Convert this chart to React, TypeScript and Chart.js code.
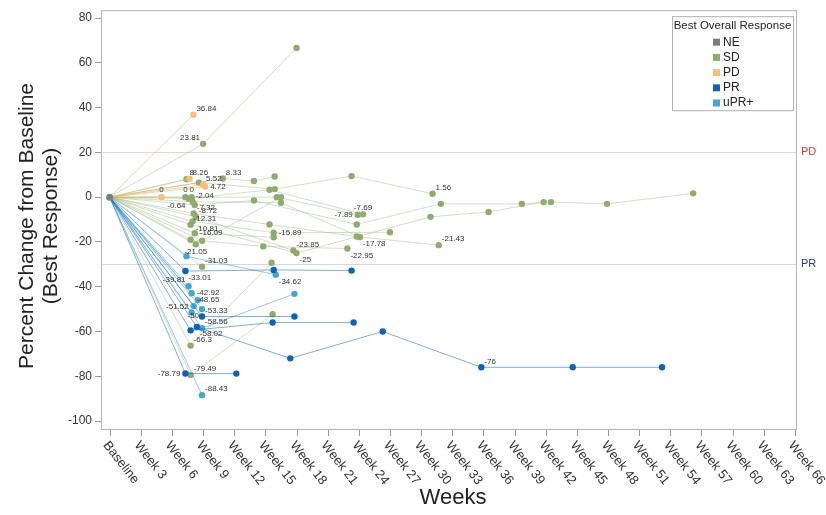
import { useEffect, useRef } from 'react';
import { Chart, registerables } from 'chart.js';

Chart.register(...registerables);

// ---------------- data ----------------
const categories = ['NE', 'SD', 'PD', 'PR', 'uPR+'];

const xTickWeeks = [0, 3, 6, 9, 12, 15, 18, 21, 24, 27, 30, 33, 36, 39, 42, 45, 48, 51, 54, 57, 60, 63, 66];
const xTickLabels = ['Baseline', 'Week 3', 'Week 6', 'Week 9', 'Week 12', 'Week 15', 'Week 18', 'Week 21', 'Week 24',
  'Week 27', 'Week 30', 'Week 33', 'Week 36', 'Week 39', 'Week 42', 'Week 45', 'Week 48', 'Week 51', 'Week 54',
  'Week 57', 'Week 60', 'Week 63', 'Week 66'];
const yTickValues = [80, 60, 40, 20, 0, -20, -40, -60, -80, -100];

const pdThreshold = 20;
const prThreshold = -30;

// Stable disease patients
const sdWeeks = [
  [9, 18],
  [7.4],
  [10.9, 13.9, 15.9],
  [8.6, 15.9, 23.3, 31.1],
  [7.3],
  [7.9, 16.1, 23.9],
  [7.6, 15.4, 24.4],
  [8.0, 16.5, 24.1, 31.7],
  [8.2, 13.9, 23.8, 31.9, 39.7, 42.5, 47.9, 56.2],
  [8.1, 15.4, 23.8],
  [8.3, 17.7],
  [7.8, 18, 30.9, 36.5, 41.8],
  [8.0, 15.8, 27],
  [8.2, 15.8],
  [7.8, 14.8, 22.9],
  [8.3],
  [8.9, 16.5],
  [8.9],
  [7.8, 15.6],
  [7.8, 15.7],
];
const sdValues = [
  [23.81, 66.67],
  [8],
  [8.33, 7.2, 9.2],
  [6.5, 3.6, 9.4, 1.56],
  [0],
  [0, 0, -7.89],
  [-0.64, 3.3, -7.69],
  [-2.04, -2.5, -17.78, -21.43],
  [-3.5, -1.5, -12.2, -3, -3, -2.2, -3, 1.7],
  [-7.32, -12.2, -17.6],
  [-8.72, -23.85],
  [-12.31, -25, -8.8, -6.6, -2.2],
  [-10.81, -15.89, -15.7],
  [-16.09, -17.9],
  [-19, -22, -22.95],
  [-21.05],
  [-19.5, 0],
  [-31.03],
  [-66.3, -29.3],
  [-79.49, -52.3],
];
const sdLabelAt = [[0], [0], [0], [3], [0], [0, 2], [0, 2], [0, 2, 3], [], [0], [0, 1], [0, 1], [0, 1], [0], [2], [0], [], [0], [0], [0]];

// Progressive disease patients
const pdWeeks = [[8.07], [7.7], [9.0], [9.2], [5.0]];
const pdValues = [[36.84], [8.26], [5.52], [4.72], [0]];
const pdLabelAt = [[0], [0], [0], [0], [0]];

// Partial response patients
const prWeeks = [
  [7.3, 15.8, 23.3],
  [8.9, 17.8],
  [7.8, 15.7, 23.5],
  [8.4, 17.4, 26.3, 35.8, 44.6, 53.2],
  [7.3, 12.2],
];
const prValues = [
  [-33.01, -32.5, -32.8],
  [-53.33, -53.3],
  [-59.5, -56, -56],
  [-58.02, -72, -60, -76, -76, -76],
  [-78.79, -78.8],
];
const prLabelAt = [[0], [0], [], [0, 3], [0]];

// Unconfirmed partial response patients
const uprWeeks = [[7.4, 16], [7.6], [7.9], [8.1], [7.9], [8.9], [8.9, 17.8], [8.9], [8.5]];
const uprValues = [[-26.4, -34.62], [-39.81], [-42.92], [-48.65], [-51.52], [-50], [-58.56, -43.2], [-88.43], [-46]];
const uprLabelAt = [[1], [0], [0], [0], [0], [0], [0], [0], []];

// ---------------- style ----------------
const pointColor: Record<string, string> = {
  NE: '#7d7d7d',
  SD: '#8fac6e',
  PD: '#f5bf7c',
  PR: '#0e63b8',
  'uPR+': '#4aa4d2',
};
const lineColor: Record<string, string> = {
  NE: 'rgba(125,125,125,0.5)',
  SD: 'rgba(150,178,120,0.42)',
  PD: 'rgba(242,185,110,0.6)',
  PR: 'rgba(25,105,185,0.55)',
  'uPR+': 'rgba(80,165,212,0.6)',
};

// label placement: anchor relative to the point
const labelPlacement: Record<string, string> = {
  '36.84': 'ar', '23.81': 'al', '8': 'ar', '8.26': 'ar', '5.52': 'ar', '4.72': 'r', '8.33': 'ar', '0': 'a',
  '-0.64': 'bl', '-2.04': 'ar', '-7.32': 'ar', '-8.72': 'ar', '-12.31': 'ar', '-10.81': 'br', '-16.09': 'r',
  '-21.05': 'b', '-31.03': 'ar', '-33.01': 'br', '-39.81': 'al', '-42.92': 'r', '-48.65': 'ar', '-51.52': 'al',
  '-53.33': 'ar', '-50': 'bl', '-58.56': 'ar', '-58.02': 'br', '-66.3': 'ar', '-78.79': 'l', '-79.49': 'ar',
  '-88.43': 'ar', '-76': 'ar', '-34.62': 'br', '-15.89': 'r', '-23.85': 'ar', '-25': 'br', '-7.89': 'l',
  '-7.69': 'a', '-17.78': 'br', '-22.95': 'br', '1.56': 'ar', '-21.43': 'ar',
};

const FONT = '"Liberation Sans", Arial, sans-serif';

function buildSeries(cat: string, weeks: number[][], values: number[][], labelAt: number[][]) {
  return weeks.map((ws, i) => ({
    label: cat,
    data: [{ x: 0, y: 0 }, ...ws.map((w, j) => ({ x: w, y: values[i][j] }))],
    labelAt: labelAt[i],
    showLine: true,
    borderColor: lineColor[cat],
    borderWidth: 1,
    pointRadius: (c: any) => (c.dataIndex === 0 ? 0 : 3.2),
    pointHoverRadius: 0,
    pointBackgroundColor: pointColor[cat],
    pointBorderWidth: 0,
  }));
}

const decorPlugin = {
  id: 'decor',
  beforeDatasetsDraw(chart: any) {
    const { ctx, chartArea: a, scales } = chart;
    ctx.save();
    ctx.lineWidth = 1;
    const y20 = Math.round(scales.y.getPixelForValue(pdThreshold)) + 0.5;
    ctx.strokeStyle = 'rgba(232,200,200,0.8)';
    ctx.beginPath(); ctx.moveTo(a.left, y20); ctx.lineTo(a.right, y20); ctx.stroke();
    const y30 = Math.round(scales.y.getPixelForValue(prThreshold)) + 0.5;
    ctx.strokeStyle = 'rgba(205,212,226,0.9)';
    ctx.beginPath(); ctx.moveTo(a.left, y30); ctx.lineTo(a.right, y30); ctx.stroke();
    ctx.restore();
  },
  afterDatasetsDraw(chart: any) {
    const { ctx } = chart;
    ctx.save();
    ctx.font = `8px ${FONT}`;
    ctx.fillStyle = '#333';
    ctx.textBaseline = 'middle';
    chart.data.datasets.forEach((ds: any, i: number) => {
      if (!ds.labelAt) return;
      const meta = chart.getDatasetMeta(i);
      ds.labelAt.forEach((j: number) => {
        const el = meta.data[j + 1];
        const text = String(ds.data[j + 1].y);
        const p = labelPlacement[text] || 'ar';
        let x = el.x, y = el.y, align: CanvasTextAlign = 'left';
        if (p === 'ar') { x += 3; y -= 6; }
        else if (p === 'r') { x += 5; }
        else if (p === 'br') { x += 3; y += 7; }
        else if (p === 'al') { x -= 3; y -= 6; align = 'right'; }
        else if (p === 'l') { x -= 5; align = 'right'; }
        else if (p === 'bl') { x -= 3; y += 7; align = 'right'; }
        else if (p === 'a') { y -= 7; align = 'center'; }
        else if (p === 'b') { y += 8; align = 'center'; }
        ctx.textAlign = align;
        ctx.fillText(text, x, y);
      });
    });
    ctx.restore();
  },
  afterDraw(chart: any) {
    const { ctx, chartArea: a, scales } = chart;
    ctx.save();
    // frame
    ctx.strokeStyle = '#b5b5b5';
    ctx.lineWidth = 1;
    ctx.strokeRect(a.left + 0.5, a.top + 0.5, a.right - a.left - 1, a.bottom - a.top - 1);
    // x ticks
    ctx.strokeStyle = '#999';
    xTickWeeks.forEach((w) => {
      const px = Math.round(scales.x.getPixelForValue(w)) + 0.5;
      ctx.beginPath(); ctx.moveTo(px, a.bottom); ctx.lineTo(px, a.bottom + 6); ctx.stroke();
    });
    // x tick labels rotated
    ctx.fillStyle = '#333';
    ctx.font = `13px ${FONT}`;
    ctx.textAlign = 'left';
    ctx.textBaseline = 'middle';
    xTickWeeks.forEach((w, k) => {
      const px = scales.x.getPixelForValue(w);
      ctx.save();
      ctx.translate(px - 4, a.bottom + 13);
      ctx.rotate((52 * Math.PI) / 180);
      ctx.fillText(xTickLabels[k], 0, 0);
      ctx.restore();
    });
    // x title
    ctx.font = `22px ${FONT}`;
    ctx.textAlign = 'center';
    ctx.fillStyle = '#222';
    ctx.fillText('Weeks', (a.left + a.right) / 2 + 4, 498);
    // y title
    ctx.save();
    ctx.translate(0, 226);
    ctx.rotate(-Math.PI / 2);
    ctx.font = `21px ${FONT}`;
    ctx.fillText('Percent Change from Baseline', 0, 27);
    ctx.fillText('(Best Response)', 0, 51);
    ctx.restore();
    // threshold labels
    ctx.font = `11px ${FONT}`;
    ctx.textAlign = 'left';
    ctx.fillStyle = '#e0332c';
    ctx.fillText('PD', a.right + 4, scales.y.getPixelForValue(pdThreshold));
    ctx.fillStyle = '#26358a';
    ctx.fillText('PR', a.right + 4, scales.y.getPixelForValue(prThreshold));
    // legend
    const lx = a.right - 125, ly = a.top + 6, lw = 121, lh = 94;
    ctx.fillStyle = '#fff';
    ctx.fillRect(lx, ly, lw, lh);
    ctx.strokeStyle = '#b0b0b0';
    ctx.strokeRect(lx + 0.5, ly + 0.5, lw, lh);
    ctx.fillStyle = '#222';
    ctx.font = `11.5px ${FONT}`;
    ctx.textAlign = 'center';
    ctx.fillText('Best Overall Response', lx + lw / 2, ly + 10);
    ctx.textAlign = 'left';
    ctx.font = `12px ${FONT}`;
    categories.forEach((c, k) => {
      const yy = ly + 26 + k * 15.2;
      ctx.fillStyle = pointColor[c];
      ctx.fillRect(lx + 41, yy - 3.5, 7, 7);
      ctx.fillStyle = '#222';
      ctx.fillText(c, lx + 51, yy);
    });
    ctx.restore();
  },
};

export default function App() {
  const ref = useRef<HTMLCanvasElement | null>(null);
  useEffect(() => {
    if (!ref.current) return;
    Chart.defaults.font.family = FONT;
    const datasets: any[] = [
      {
        label: 'NE',
        data: [{ x: 0, y: 0 }],
        pointRadius: 3.5,
        pointHoverRadius: 0,
        pointBackgroundColor: pointColor.NE,
        pointBorderWidth: 0,
        showLine: false,
      },
      ...buildSeries('PR', prWeeks, prValues, prLabelAt),
      ...buildSeries('uPR+', uprWeeks, uprValues, uprLabelAt),
      ...buildSeries('PD', pdWeeks, pdValues, pdLabelAt),
      ...buildSeries('SD', sdWeeks, sdValues, sdLabelAt),
    ];
    const chart = new Chart(ref.current, {
      type: 'scatter',
      data: { datasets },
      options: {
        animation: false,
        responsive: false,
        devicePixelRatio: 1,
        events: [],
        layout: { padding: { top: 3, right: 29, left: 0, bottom: 0 } },
        plugins: { legend: { display: false }, tooltip: { enabled: false } },
        scales: {
          x: {
            type: 'linear',
            min: -0.83,
            max: 66.2,
            afterBuildTicks: (s: any) => { s.ticks = xTickWeeks.map((v) => ({ value: v })); },
            afterFit: (s: any) => { s.height = 85; },
            ticks: { display: false },
            grid: { display: false },
            border: { display: false },
          },
          y: {
            type: 'linear',
            min: -104,
            max: 83.5,
            afterBuildTicks: (s: any) => { s.ticks = yTickValues.map((v) => ({ value: v })); },
            afterFit: (s: any) => { s.width = 101; },
            ticks: { font: { size: 12, family: FONT }, color: '#333', padding: 3 },
            grid: { display: true, drawOnChartArea: false, drawTicks: true, tickLength: 6, color: '#999' },
            border: { display: false },
          },
        },
      } as any,
      plugins: [decorPlugin],
    });
    return () => chart.destroy();
  }, []);
  return (
    <div style={{ position: 'absolute', left: 0, top: 0, width: 826, height: 515, background: '#fff' }}>
      <canvas ref={ref} width={826} height={515} style={{ display: 'block' }} />
    </div>
  );
}
